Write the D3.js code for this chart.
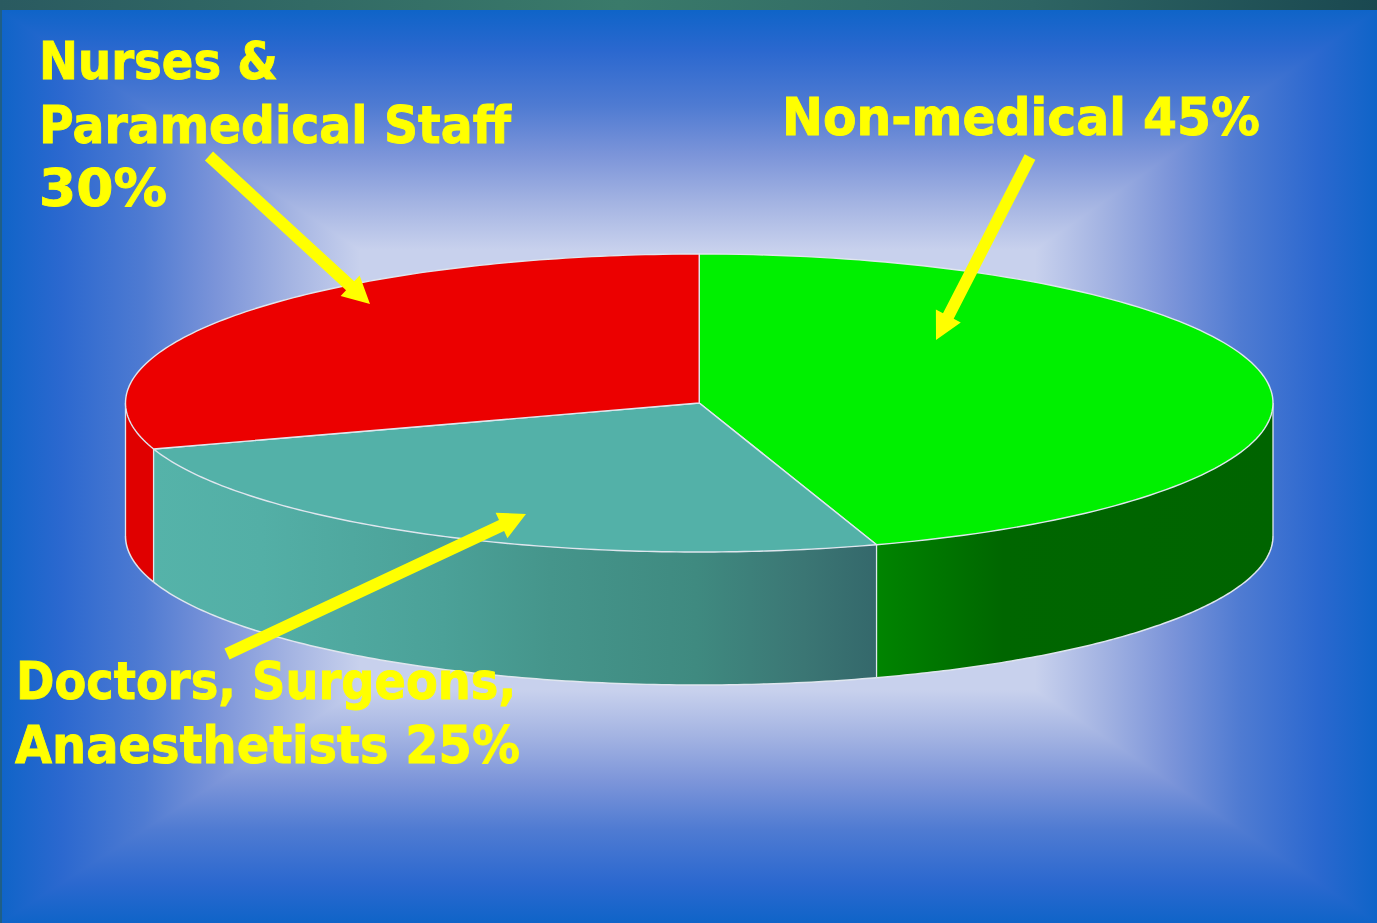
<!DOCTYPE html>
<html>
<head>
<meta charset="utf-8">
<script src="https://cdn.jsdelivr.net/npm/d3@7"></script>
<style>html,body{margin:0;padding:0;background:#1467cc;overflow:hidden}svg{display:block}</style>
</head>
<body>
<script>
const categories = ["Non-medical", "Doctors, Surgeons, Anaesthetists", "Nurses & Paramedical Staff"];
const shares = [45, 25, 30];
const topColors = ["#00f000", "#53b1a8", "#ec0000"];
const labelLines = [
  ["Nurses &", 39, 79, 239],
  ["Paramedical Staff", 39, 143, 472],
  ["30%", 39, 206, 128],
  ["Non-medical 45%", 782, 135, 478],
  ["Doctors, Surgeons,", 16, 699, 500],
  ["Anaesthetists 25%", 15, 763, 505]
];
const arrows = [
  [[209, 156], [370, 304]],
  [[1030, 157], [936, 340]],
  [[227, 654], [526, 514]]
];

const W = 1377, H = 923, top0 = 10;
const svg = d3.select("body").append("svg").attr("width", W).attr("height", H);
const defs = svg.append("defs");

function grad(id, dir, stops) {
  const g = defs.append("linearGradient").attr("id", id).attr("gradientUnits", "userSpaceOnUse")
    .attr("x1", dir[0]).attr("y1", dir[1]).attr("x2", dir[2]).attr("y2", dir[3]);
  stops.forEach(s => g.append("stop").attr("offset", s[0]).attr("stop-color", s[1]));
}
const ramp = [[0, "#0f64c8"], [0.17, "#2b68cf"], [0.4, "#4f7bd2"], [0.6, "#7b94d9"], [0.8, "#a3b3e2"], [1, "#c8d1ed"]];
const pl = {x0: 360, x1: 1035, y0: 250, y1: 690};
grad("bgT", [0, top0, 0, pl.y0], ramp);
grad("bgB", [0, H, 0, pl.y1], ramp);
grad("bgL", [0, 0, pl.x0, 0], ramp);
grad("bgR", [W, 0, pl.x1, 0], ramp);
grad("barTop", [0, 0, W, 0], [[0, "#2a5a60"], [0.45, "#3a7a6a"], [0.75, "#2e6463"], [1, "#1a4850"]]);

const bgPoly = d3.line();
const bg = svg.append("g").attr("shape-rendering", "crispEdges");
bg.append("rect").attr("width", W).attr("height", H).attr("fill", "#c8d1ed");
[
  ["bgT", [[0, top0], [W, top0], [pl.x1, pl.y0], [pl.x0, pl.y0]]],
  ["bgB", [[0, H], [W, H], [pl.x1, pl.y1], [pl.x0, pl.y1]]],
  ["bgL", [[0, top0], [pl.x0, pl.y0], [pl.x0, pl.y1], [0, H]]],
  ["bgR", [[W, top0], [pl.x1, pl.y0], [pl.x1, pl.y1], [W, H]]]
].forEach(d => bg.append("path").attr("d", bgPoly(d[1]) + "Z").attr("fill", `url(#${d[0]})`));
bg.append("rect").attr("width", W).attr("height", top0).attr("fill", "url(#barTop)");
bg.append("rect").attr("y", top0).attr("width", 2).attr("height", H - top0).attr("fill", "#1f5f86");

// pie geometry
const x = d3.scaleLinear().domain([-1, 1]).range([125.5, 1273]);
const y = d3.scaleLinear().domain([-1, 1]).range([254, 552]);
const depth = 133;
const pie = d3.pie().sort(null).value(d => d).startAngle(0).endAngle(2 * Math.PI)(shares);
const px = a => x(Math.sin(a));
const py = a => y(-Math.cos(a));
const samples = (a0, a1) => d3.range(0, 121).map(i => a0 + (a1 - a0) * i / 120);
const line = d3.line();
const edge = "#dfe6ee";

grad("wallTeal", [x(-0.951), 0, x(0.309), 0], [[0, "#55b3a9"], [0.15, "#53afa6"], [0.4, "#4ba198"], [0.55, "#45958b"], [0.75, "#3f8a80"], [0.9, "#3b7674"], [1, "#34686b"]]);
grad("wallGreen", [x(0.309), 0, x(1), 0], [[0, "#008400"], [0.32, "#006600"], [1, "#006400"]]);
const wallFill = ["url(#wallGreen)", "url(#wallTeal)", "#e00000"];

// walls, drawn for the front half only
const wallGroup = svg.append("g");
pie.forEach((s, i) => {
  const a0 = Math.max(s.startAngle, Math.PI / 2), a1 = Math.min(s.endAngle, 3 * Math.PI / 2);
  if (a1 <= a0) return;
  const topEdge = samples(a0, a1).map(a => [px(a), py(a)]);
  const botEdge = samples(a0, a1).reverse().map(a => [px(a), py(a) + depth]);
  wallGroup.append("path").attr("d", line(topEdge.concat(botEdge)) + "Z").attr("fill", wallFill[i]);
  wallGroup.append("path").attr("d", line(botEdge)).attr("fill", "none").attr("stroke", edge).attr("stroke-width", 1.5);
});
// vertical seams and silhouette
[pie[0].endAngle, pie[1].endAngle, Math.PI / 2, 3 * Math.PI / 2].forEach(a => {
  wallGroup.append("line").attr("x1", px(a)).attr("x2", px(a)).attr("y1", py(a)).attr("y2", py(a) + depth)
    .attr("stroke", edge).attr("stroke-width", 1.3);
});

// top slices
const topGroup = svg.append("g");
pie.forEach((s, i) => {
  const rim = samples(s.startAngle, s.endAngle).map(a => [px(a), py(a)]);
  topGroup.append("path").attr("d", line([[x(0), y(0)]].concat(rim)) + "Z")
    .attr("fill", topColors[i]).attr("stroke", edge).attr("stroke-width", 1.4).attr("stroke-linejoin", "round");
});

// arrows
const yellow = "#ffff00";
const arrowGroup = svg.append("g");
arrows.forEach(([p, q]) => {
  const dx = q[0] - p[0], dy = q[1] - p[1], L = Math.hypot(dx, dy), ux = dx / L, uy = dy / L;
  const head = 27, hw = 14, sw = 6;
  const b = [q[0] - ux * head, q[1] - uy * head];
  const n = [-uy, ux];
  const shape = [
    [p[0] + n[0] * sw, p[1] + n[1] * sw], [b[0] + n[0] * sw, b[1] + n[1] * sw],
    [b[0] + n[0] * hw, b[1] + n[1] * hw], q,
    [b[0] - n[0] * hw, b[1] - n[1] * hw],
    [b[0] - n[0] * sw, b[1] - n[1] * sw], [p[0] - n[0] * sw, p[1] - n[1] * sw]
  ];
  arrowGroup.append("path").attr("d", line(shape) + "Z").attr("fill", yellow);
});

// labels
svg.append("g").selectAll("text").data(labelLines).join("text")
  .attr("x", d => d[1]).attr("y", d => d[2])
  .attr("textLength", d => d[3]).attr("lengthAdjust", "spacingAndGlyphs")
  .attr("font-family", "'DejaVu Sans', sans-serif").attr("font-weight", "bold")
  .attr("font-size", 52).attr("fill", yellow)
  .attr("stroke", yellow).attr("stroke-width", 0.9)
  .text(d => d[0]);
</script>
</body>
</html>
